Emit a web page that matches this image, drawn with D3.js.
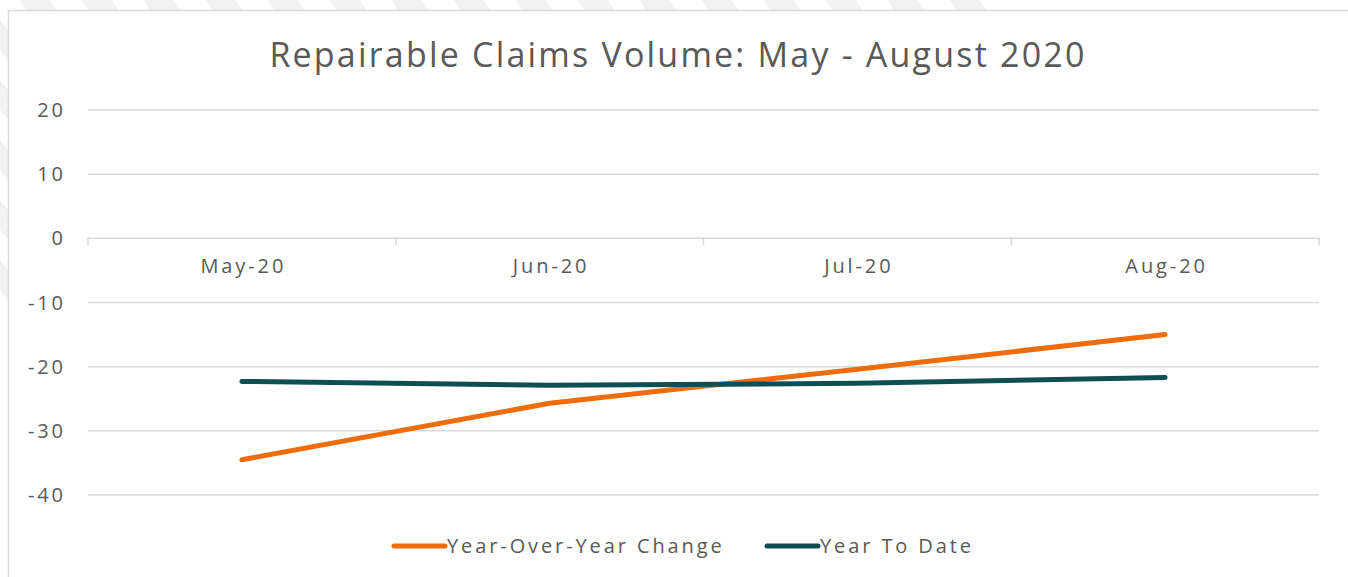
<!DOCTYPE html>
<html><head><meta charset="utf-8">
<script src="https://cdn.jsdelivr.net/npm/d3@7"></script>
<style>body{margin:0;background:#fff;}svg{display:block;font-family:"Open Sans",sans-serif;}</style>
</head><body><svg id="c" width="1348" height="577"></svg>
<script>
const categories = ["May-20","Jun-20","Jul-20","Aug-20"];
const yoyValues = [-34.5, -25.7, -20.4, -15.0];
const ytdValues = [-22.3, -22.9, -22.6, -21.7];
const yTicks = [20, 10, 0, -10, -20, -30, -40];
const seriesNames = ["Year-Over-Year Change", "Year To Date"];
const seriesColors = ["#EE6C0A", "#0F4E53"];
const title = "Repairable Claims Volume: May - August 2020";

const svg = d3.select("#c");
const LS = 2.9;
// faint background stripes
const bg = svg.append("g");
for (let i = 0; i < 16; i++) {
  const x0 = 20 + i * 62;
  bg.append("path").attr("d", `M${x0},0 L${x0+30},0 L${x0+36},10 L${x0+6},10 Z`).attr("fill", "#f2f2f2");
}
for (let i = 0; i < 5; i++) {
  const y0 = 20 + i * 60;
  bg.append("path").attr("d", `M0,${y0} L8,${y0+10} L8,${y0+40} L0,${y0+30} Z`).attr("fill", "#f2f2f2");
}
svg.append("rect").attr("x", 8.5).attr("y", 10.5).attr("width", 1345).attr("height", 580)
  .attr("fill", "#fff").attr("stroke", "#d9d9d9").attr("stroke-width", 1.5);

const left = 88, right = 1319;
const x = d3.scaleBand().domain(categories).range([left, right]);
const y = d3.scaleLinear().domain([-40, 20]).range([495, 110]);

svg.append("text").attr("x", 678).attr("y", 67).attr("text-anchor", "middle")
  .attr("font-size", 34).attr("letter-spacing", 2.2).attr("fill", "#595959").text(title);

// gridlines
svg.append("g").selectAll("line").data(yTicks.filter(d => d !== 0)).join("line")
  .attr("x1", left).attr("x2", right).attr("y1", d => y(d)).attr("y2", d => y(d))
  .attr("stroke", "#d9d9d9").attr("stroke-width", 1.5);

// y labels
svg.append("g").selectAll("text").data(yTicks).join("text")
  .attr("x", 63 + LS).attr("y", d => y(d) + 7).attr("text-anchor", "end")
  .attr("font-size", 20).attr("letter-spacing", LS).attr("fill", "#595959").text(d => d);

// zero axis with category ticks
const xAxis = d3.axisBottom(x).tickSize(0).tickPadding(20);
const ax = svg.append("g").attr("transform", `translate(0,${y(0)})`).call(xAxis);
ax.select(".domain").attr("stroke", "#d9d9d9").attr("stroke-width", 1.5)
  .attr("d", `M${left},7V0H${right}V7`);
ax.selectAll(".tick text").attr("font-size", 20).attr("fill", "#595959")
  .attr("letter-spacing", LS).attr("dx", LS / 2).attr("font-family", "Open Sans, sans-serif");
const bounds = categories.slice(1).map(c => x(c));
ax.selectAll(".bnd").data(bounds).join("line").attr("class", "bnd")
  .attr("x1", d => d).attr("x2", d => d).attr("y1", 0).attr("y2", 7)
  .attr("stroke", "#d9d9d9").attr("stroke-width", 1.5);

const line = d3.line().x((d, i) => x(categories[i]) + x.bandwidth() / 2).y(d => y(d));
[yoyValues, ytdValues].forEach((vals, i) => {
  svg.append("path").datum(vals).attr("d", line).attr("fill", "none")
    .attr("stroke", seriesColors[i]).attr("stroke-width", 5).attr("stroke-linecap", "round").attr("stroke-linejoin", "round");
});

// legend
const legX = [394, 767];
seriesNames.forEach((n, i) => {
  svg.append("line").attr("x1", legX[i]).attr("x2", legX[i] + 51).attr("y1", 546).attr("y2", 546)
    .attr("stroke", seriesColors[i]).attr("stroke-width", 5).attr("stroke-linecap", "round");
  svg.append("text").attr("x", legX[i] + 53).attr("y", 553).attr("font-size", 20)
    .attr("letter-spacing", LS).attr("fill", "#595959").text(n);
});
</script></body></html>
